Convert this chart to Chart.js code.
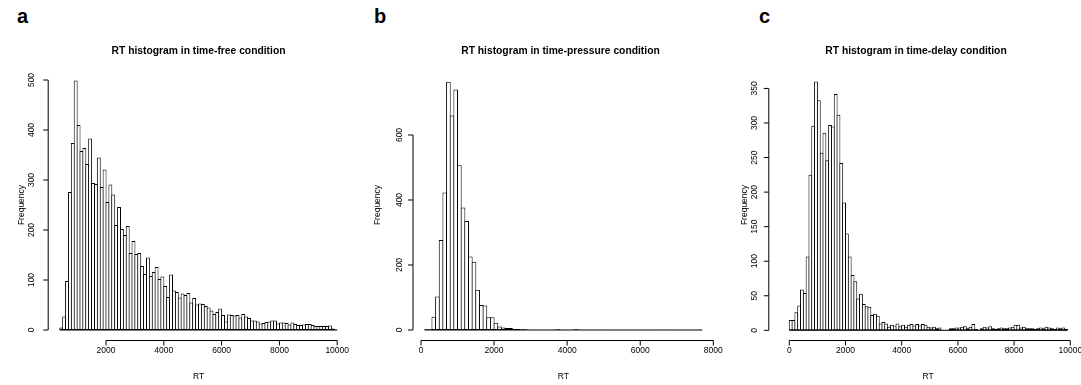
<!DOCTYPE html>
<html>
<head>
<meta charset="utf-8">
<script src="https://cdn.jsdelivr.net/npm/chart.js@4.4.1/dist/chart.umd.min.js"></script>
<style>
  html, body { margin: 0; padding: 0; background: #fff; width: 1081px; height: 385px; overflow: hidden; }
  body { position: relative; }
  canvas { position: absolute; top: 0; }
  .letter { position: absolute; font: bold 20px "Liberation Sans", Arial, sans-serif; color: #000; line-height: 1; }
</style>
</head>
<body>
<div class="letter" style="left:17px; top:6px">a</div>
<div class="letter" style="left:374px; top:6px">b</div>
<div class="letter" style="left:759px; top:6px">c</div>
<canvas id="chartFree" style="left:0px" width="360" height="385"></canvas>
<canvas id="chartPressure" style="left:360px" width="380" height="385"></canvas>
<canvas id="chartDelay" style="left:720px" width="370" height="385"></canvas>
<script>
// histogram bins are 100 ms wide
const binWidth = 100;

// a: time-free, bins 400..9900
const freeStart = 400;
const freeCounts = [5, 27, 98, 276, 374, 499, 410, 358, 364, 332, 383, 294, 292, 345, 286, 321, 256, 291, 271, 210,
  246, 202, 190, 208, 154, 178, 152, 154, 128, 112, 145, 108, 116, 126, 102, 107, 88, 66, 111, 79,
  76, 65, 73, 70, 74, 55, 64, 51, 53, 52, 48, 45, 39, 32, 36, 43, 30, 17, 31, 30,
  29, 30, 25, 32, 27, 24, 19, 19, 17, 13, 14, 16, 17, 19, 19, 13, 15, 15, 14, 11,
  15, 12, 10, 10, 11, 12, 12, 10, 8, 8, 8, 8, 8, 9, 3, 1];
const freeXTicks = [2000, 4000, 6000, 8000, 10000];
const freeYTicks = [0, 100, 200, 300, 400, 500];

// b: time-pressure, bins 100..7600
const pressureStart = 100;
const pressureCounts = [2, 2, 41, 103, 277, 423, 764, 660, 740, 507, 377, 335, 226, 210, 124, 77, 75, 39, 39, 22,
  11, 8, 6, 6, 3, 3, 2, 2, 1, 1, 0, 1, 0, 1, 0, 1, 2, 1, 1, 0,
  0, 2, 1, 0, 0, 1, 0, 0, 0, 1, 0, 0, 0, 0, 0, 0, 0, 0, 0, 0,
  0, 0, 0, 0, 0, 1, 0, 0, 0, 0, 0, 0, 0, 0, 0, 1];
const pressureXTicks = [0, 2000, 4000, 6000, 8000];
const pressureYTicks = [0, 200, 400, 600];

// c: time-delay, bins 0..9800
const delayStart = 0;
const delayCounts = [15, 15, 26, 36, 59, 54, 107, 225, 296, 360, 333, 257, 286, 246, 297, 295, 342, 312, 242, 185,
  140, 107, 80, 71, 46, 53, 38, 35, 34, 22, 24, 21, 10, 12, 10, 5, 8, 7, 10, 6,
  8, 5, 8, 9, 7, 9, 7, 9, 8, 5, 4, 5, 3, 4, 1, 0, 1, 3, 3, 4,
  4, 5, 6, 3, 5, 9, 2, 1, 3, 5, 4, 6, 3, 2, 3, 4, 3, 3, 4, 5,
  8, 8, 4, 5, 3, 3, 3, 2, 3, 4, 3, 5, 4, 3, 2, 4, 3, 4, 2];
const delayXTicks = [0, 2000, 4000, 6000, 8000, 10000];
const delayYTicks = [0, 50, 100, 150, 200, 250, 300, 350];

const FONT = '"Liberation Sans", Arial, Helvetica, sans-serif';

// R-style axes: lines only between first and last tick, ticks outward, rotated y labels
const rAxes = {
  id: 'rAxes',
  afterDatasetsDraw(chart, args, o) {
    const { ctx, chartArea: a, scales: { x, y } } = chart;
    const tick = 5;
    ctx.save();
    ctx.strokeStyle = '#000';
    ctx.fillStyle = '#000';
    ctx.lineWidth = 1;

    // baseline of the histogram (zero-height bins still show as a line)
    const y0 = y.getPixelForValue(0);
    ctx.beginPath();
    ctx.moveTo(x.getPixelForValue(o.binFrom), y0);
    ctx.lineTo(x.getPixelForValue(o.binTo), y0);
    ctx.stroke();

    // x axis
    const xb = a.bottom + 0.5;
    ctx.beginPath();
    ctx.moveTo(x.getPixelForValue(o.xTicks[0]), xb);
    ctx.lineTo(x.getPixelForValue(o.xTicks[o.xTicks.length - 1]), xb);
    o.xTicks.forEach(v => {
      const px = x.getPixelForValue(v);
      ctx.moveTo(px, xb);
      ctx.lineTo(px, xb + tick);
    });
    // y axis
    const yl = a.left - 0.5;
    ctx.moveTo(yl, y.getPixelForValue(o.yTicks[0]));
    ctx.lineTo(yl, y.getPixelForValue(o.yTicks[o.yTicks.length - 1]));
    o.yTicks.forEach(v => {
      const py = y.getPixelForValue(v);
      ctx.moveTo(yl, py);
      ctx.lineTo(yl - tick, py);
    });
    ctx.stroke();

    ctx.font = '8.5px ' + FONT;
    ctx.textAlign = 'center';
    ctx.textBaseline = 'middle';
    o.xTicks.forEach(v => ctx.fillText(String(v), x.getPixelForValue(v), a.bottom + o.xLabelGap));
    ctx.fillText('RT', (a.left + a.right) / 2, a.bottom + o.xTitleGap);

    o.yTicks.forEach(v => {
      ctx.save();
      ctx.translate(a.left - o.yLabelGap, y.getPixelForValue(v));
      ctx.rotate(-Math.PI / 2);
      ctx.fillText(String(v), 0, 0);
      ctx.restore();
    });
    ctx.save();
    ctx.translate(a.left - o.yTitleGap, (a.top + a.bottom) / 2);
    ctx.rotate(-Math.PI / 2);
    ctx.fillText('Frequency', 0, 0);
    ctx.restore();

    ctx.font = 'bold 10.3px ' + FONT;
    ctx.fillText(o.title, (a.left + a.right) / 2 + (o.titleShift || 0), o.titleY);
    ctx.restore();
  }
};

function histogram(id, start, counts, xRange, yRange, pad, axes) {
  const points = counts.map((c, i) => ({ x: start + i * binWidth + binWidth / 2, y: c }));
  return new Chart(document.getElementById(id), {
    type: 'bar',
    data: {
      datasets: [{
        data: points,
        backgroundColor: '#ffffff',
        borderColor: '#000000',
        borderWidth: 1,
        borderSkipped: false,
        barPercentage: axes.barPct,
        categoryPercentage: 1
      }]
    },
    options: {
      responsive: false,
      animation: false,
      layout: { padding: pad },
      plugins: {
        legend: { display: false },
        tooltip: { enabled: false },
        rAxes: Object.assign({ binFrom: start, binTo: start + counts.length * binWidth }, axes)
      },
      scales: {
        x: { type: 'linear', display: false, offset: false, min: xRange[0], max: xRange[1] },
        y: { type: 'linear', display: false, min: yRange[0], max: yRange[1] }
      }
    },
    plugins: [rAxes]
  });
}

histogram('chartFree', freeStart, freeCounts, [16, 10384], [-20, 520],
  { left: 48.7, right: 11.7, top: 70, bottom: 45 },
  { xTicks: freeXTicks, yTicks: freeYTicks, title: 'RT histogram in time-free condition',
    titleY: 51, xLabelGap: 11, xTitleGap: 36.5, yLabelGap: 16.7, yTitleGap: 27, barPct: 1.35 });

histogram('chartPressure', pressureStart, pressureCounts, [-205, 8002], [-30.8, 800],
  { left: 53.5, right: 26.6, top: 70, bottom: 45 },
  { xTicks: pressureXTicks, yTicks: pressureYTicks, title: 'RT histogram in time-pressure condition',
    titleY: 51, titleShift: -3, xLabelGap: 11, xTitleGap: 36.5, yLabelGap: 13.5, yTitleGap: 36, barPct: 1.27 });

histogram('chartDelay', delayStart, delayCounts, [-712, 10584], [-14, 376.7],
  { left: 49.3, right: 3.3, top: 70, bottom: 45 },
  { xTicks: delayXTicks, yTicks: delayYTicks, title: 'RT histogram in time-delay condition',
    titleY: 51, titleShift: -12, xLabelGap: 11, xTitleGap: 36.5, yLabelGap: 14.3, yTitleGap: 25, barPct: 1.36 });
</script>
</body>
</html>
